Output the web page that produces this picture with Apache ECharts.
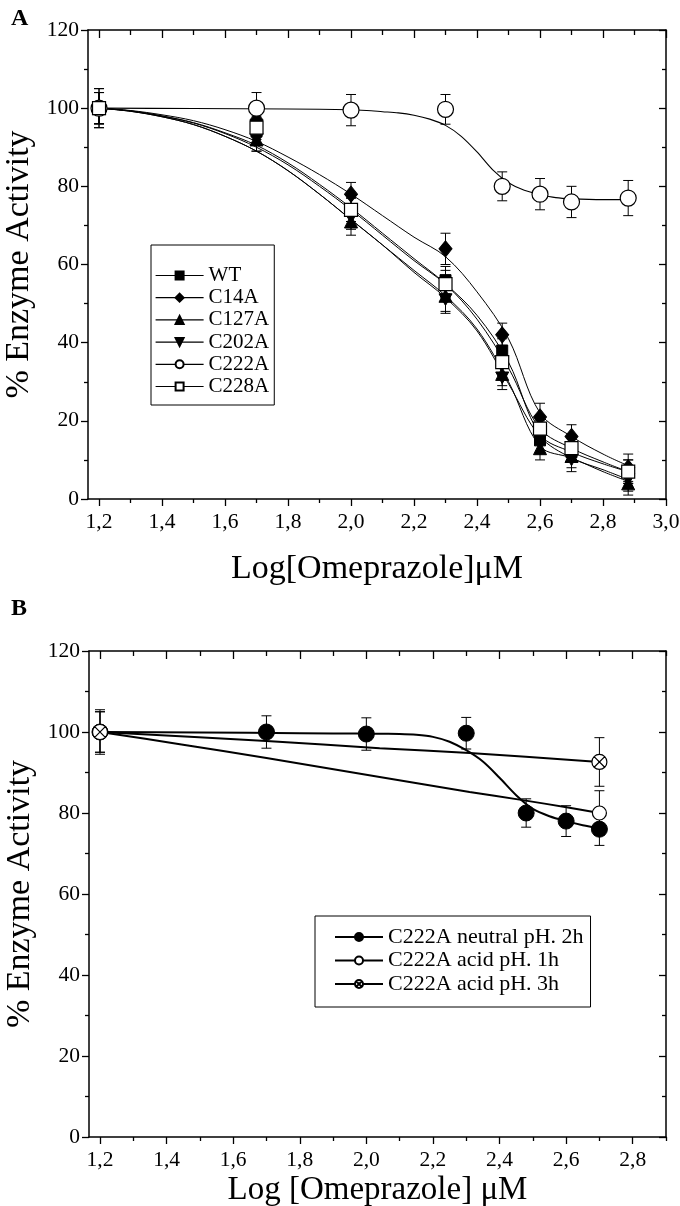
<!DOCTYPE html>
<html><head><meta charset="utf-8">
<script src="https://cdn.jsdelivr.net/npm/echarts@6/dist/echarts.min.js"></script>
<style>html,body{margin:0;padding:0;background:#fff}#c{width:680px;height:1206px}</style>
</head><body><div id="c"></div>
<script>
// ---------- Panel A data (measured points) ----------
const xA = [1.2, 1.7, 2.0, 2.3, 2.48, 2.6, 2.7, 2.88];
const wtA = [100, 94, 74, 56, 38, 15, 12, 7];
const wtErr = [5, 3, 3, 3.5, 3, 3, 2.5, 3];
const c14A = [100, 97, 78, 64, 42, 21, 16, 8];
const c14Err = [4, 3, 3, 4, 3, 3.5, 3, 3.5];
const c127A = [100, 92, 71, 52, 32, 13, 11, 4];
const c127Err = [4, 3, 3.5, 4, 3, 3, 3, 3];
const c202A = [100, 92, 72, 51, 31, 17, 10, 5];
const c202Err = [5, 3, 3, 3.5, 3, 3, 3, 3];
const c222A = [100, 100, 99.5, 99.7, 80, 78, 76, 77];
const c222Err = [4, 4, 4, 3.8, 3.7, 4, 4, 4.5];
const c228A = [100, 95, 74, 55, 35, 18, 13, 7];
const c228Err = [4, 3, 3, 3.5, 3, 3, 3, 3];

// ---------- Panel A fitted curves ----------
const fitXA = [1.2, 1.3, 1.4, 1.5, 1.6, 1.7, 1.8, 1.9, 2.0, 2.1, 2.2, 2.3, 2.4, 2.5, 2.6, 2.7, 2.8, 2.88];
const wtFit = [100, 99.3, 98, 96.2, 93.5, 90, 85.5, 80, 74, 67.5, 61, 55, 47, 35, 16.5, 12, 9, 7];
const c14Fit = [100, 99.4, 98.3, 96.8, 94.5, 91.5, 87.5, 83, 78, 72.5, 67, 62, 53, 41, 22, 16, 11.5, 8.5];
const c127Fit = [100, 99.2, 97.8, 95.8, 92.8, 89, 84, 78, 71.5, 65, 58.5, 52, 43.5, 30, 13.5, 10.5, 7, 4.5];
const c202Fit = [100, 99.2, 97.8, 95.8, 92.8, 89, 84, 78, 71.5, 65, 58, 51.5, 43, 29.5, 16, 10.5, 7.5, 5];
const c228Fit = [100, 99.3, 98, 96.3, 93.7, 90.5, 86, 80.5, 74.5, 68, 61.5, 55, 46, 33.5, 18, 13, 9.5, 7];
const c222FitX = [1.2, 1.5, 1.8, 2.0, 2.05, 2.1, 2.15, 2.2, 2.25, 2.3, 2.35, 2.4, 2.45, 2.5, 2.55, 2.6, 2.65, 2.7, 2.8, 2.88];
const c222FitY = [100, 99.9, 99.8, 99.6, 99.4, 99.1, 98.8, 98.2, 97.2, 95.6, 92.8, 88.8, 84.2, 80.9, 79.0, 77.9, 77.1, 76.8, 76.6, 76.6];

// ---------- Panel B data ----------
const xB = [1.2, 1.7, 2.0, 2.3, 2.48, 2.6, 2.7];
const neutral2h = [100, 100, 99.5, 99.7, 80, 78, 76];
const neutralErr = [5, 4, 4, 3.9, 3.5, 3.8, 4];
const neutralFitX = [1.2, 1.5, 1.8, 2.0, 2.05, 2.1, 2.15, 2.2, 2.25, 2.3, 2.35, 2.4, 2.45, 2.5, 2.55, 2.6, 2.65, 2.7];
const neutralFitY = [100, 99.9, 99.7, 99.6, 99.55, 99.5, 99.3, 98.8, 97.6, 95.5, 92.7, 88.7, 84.4, 81.0, 79.2, 78.0, 77.0, 76.2];
const xAcid = [1.2, 2.7];
const acid1h = [100, 80];
const acid1hErr = [5, 5.5];
const acid1hFitX = [1.2, 1.44, 1.7, 2.04, 2.31, 2.46, 2.61, 2.7];
const acid1hFitY = [100, 97.0, 93.6, 88.9, 85.2, 83.3, 81.3, 80];
const acid3h = [100, 92.6];
const acid3hErr = [5.5, 6];
const acid3hFitX = [1.2, 1.7, 2.04, 2.31, 2.7];
const acid3hFitY = [100, 97.8, 96.0, 94.8, 92.6];

// ---------- ticks ----------
const xMajorA = [1.2, 1.4, 1.6, 1.8, 2.0, 2.2, 2.4, 2.6, 2.8, 3.0];
const xMinorA = [1.3, 1.5, 1.7, 1.9, 2.1, 2.3, 2.5, 2.7, 2.9];
const xMajorB = [1.2, 1.4, 1.6, 1.8, 2.0, 2.2, 2.4, 2.6, 2.8];
const xMinorB = [1.3, 1.5, 1.7, 1.9, 2.1, 2.3, 2.5, 2.7, 2.9];
const yMajor = [0, 20, 40, 60, 80, 100, 120];
const yMinor = [10, 30, 50, 70, 90, 110];

const FONT = 'Liberation Serif';
const zip = (xs, ys) => xs.map((x, i) => [x, ys[i]]);
const fmtX = v => v.toFixed(1).replace('.', ',');

const grids = [
  { left: 88, top: 30, width: 578, height: 469, outerBoundsMode: 'none', containLabel: false },
  { left: 89, top: 651, width: 577, height: 486, outerBoundsMode: 'none', containLabel: false }
];
const ranges = [[1.165, 3.0], [1.167, 2.9]];

function xAx(g, pos, vals, len, inside, line, label, extra) {
  return Object.assign({
    type: 'value', gridIndex: g, position: pos, min: ranges[g][0], max: ranges[g][1],
    splitLine: { show: false },
    axisLine: { show: line, onZero: false, lineStyle: { color: '#000', width: 1.5 } },
    axisTick: { show: true, inside: inside, length: len, customValues: vals, lineStyle: { color: '#000', width: 1.3 } },
    axisLabel: label ? { show: true, customValues: vals, formatter: fmtX, fontFamily: FONT, fontSize: 21.5, color: '#000', margin: 12 } : { show: false }
  }, extra || {});
}
function yAx(g, pos, vals, len, inside, line, label, extra) {
  return Object.assign({
    type: 'value', gridIndex: g, position: pos, min: 0, max: 120,
    splitLine: { show: false },
    axisLine: { show: line, onZero: false, lineStyle: { color: '#000', width: 1.5 } },
    axisTick: { show: true, inside: inside, length: len, customValues: vals, lineStyle: { color: '#000', width: 1.3 } },
    axisLabel: label ? { show: true, customValues: vals, fontFamily: FONT, fontSize: 21.5, color: '#000', margin: 9 } : { show: false }
  }, extra || {});
}

const xNames = ['Log[Omeprazole]\u03bcM', 'Log [Omeprazole] \u03bcM'];
const xNameGap = [53, 37];
const xNameSize = [34, 33];
const xMaj = [xMajorA, xMajorB], xMin = [xMinorA, xMinorB];
const xAxes = [], yAxes = [];
[0, 1].forEach(g => {
  xAxes.push(xAx(g, 'bottom', xMaj[g], 7, false, true, true, {
    name: xNames[g], nameLocation: 'middle', nameGap: xNameGap[g],
    nameTextStyle: { fontFamily: FONT, fontSize: xNameSize[g], color: '#000' }
  }));
  yAxes.push(yAx(g, 'left', yMajor, 7, false, true, true, {
    name: '% Enzyme Activity', nameLocation: 'middle', nameGap: 47,
    nameTextStyle: { fontFamily: FONT, fontSize: 34, color: '#000' }
  }));
});
[0, 1].forEach(g => {
  xAxes.push(xAx(g, 'bottom', xMin[g], 4, false, false, false));
  xAxes.push(xAx(g, 'top', xMaj[g], 8, true, true, false));
  xAxes.push(xAx(g, 'top', xMin[g], 5, true, false, false));
  yAxes.push(yAx(g, 'left', yMinor, 4, false, false, false));
  yAxes.push(yAx(g, 'right', yMajor, 7, true, true, false));
  yAxes.push(yAx(g, 'right', yMinor, 4, true, false, false));
});

function errSeries(g, xs, ys, es, cap) {
  return {
    type: 'custom', xAxisIndex: g, yAxisIndex: g, silent: true, z: 2,
    data: xs.map((x, i) => [x, ys[i] - es[i], ys[i] + es[i]]),
    encode: { x: 0, y: [1, 2] },
    renderItem: (params, api) => {
      const lo = api.coord([api.value(0), api.value(1)]);
      const hi = api.coord([api.value(0), api.value(2)]);
      const w = cap / 2, st = { stroke: '#000', lineWidth: 1 };
      return { type: 'group', children: [
        { type: 'line', shape: { x1: lo[0], y1: lo[1], x2: hi[0], y2: hi[1] }, style: st },
        { type: 'line', shape: { x1: lo[0] - w, y1: lo[1], x2: lo[0] + w, y2: lo[1] }, style: st },
        { type: 'line', shape: { x1: hi[0] - w, y1: hi[1], x2: hi[0] + w, y2: hi[1] }, style: st }
      ] };
    }
  };
}

const DOWN_TRI = 'path://M0,0 L10,0 L5,9 Z';
const CROSS_CIRCLE = 'path://M0,10 A10,10 0 1,1 20,10 A10,10 0 1,1 0,10 Z M2.93,2.93 L17.07,17.07 M17.07,2.93 L2.93,17.07';
const filled = { color: '#000', borderColor: '#000', borderWidth: 1 };
const hollow = { color: '#fff', borderColor: '#000', borderWidth: 1.2 };

function ptSeries(g, name, xs, ys, symbol, size, style) {
  return {
    type: 'line', name: name, xAxisIndex: g, yAxisIndex: g, z: 4,
    data: zip(xs, ys), symbol: symbol, symbolSize: size, symbolKeepAspect: true,
    showAllSymbol: true, itemStyle: style,
    lineStyle: { color: '#000', width: 0 }, emphasis: { disabled: true }, animation: false
  };
}
function fitSeries(g, xs, ys, w, smooth) {
  return {
    type: 'line', xAxisIndex: g, yAxisIndex: g, z: 3, data: zip(xs, ys), symbol: 'none',
    smooth: smooth, lineStyle: { color: '#000', width: w }, animation: false, silent: true
  };
}

const series = [
  errSeries(0, xA, wtA, wtErr, 10),
  errSeries(0, xA, c14A, c14Err, 10),
  errSeries(0, xA, c127A, c127Err, 10),
  errSeries(0, xA, c202A, c202Err, 10),
  errSeries(0, xA, c222A, c222Err, 10),
  errSeries(0, xA, c228A, c228Err, 10),
  fitSeries(0, fitXA, wtFit, 1, 0.35),
  fitSeries(0, fitXA, c14Fit, 1, 0.35),
  fitSeries(0, fitXA, c127Fit, 1, 0.35),
  fitSeries(0, fitXA, c202Fit, 1, 0.35),
  fitSeries(0, fitXA, c228Fit, 1, 0.35),
  fitSeries(0, c222FitX, c222FitY, 1.1, 0.3),
  ptSeries(0, 'WT', xA, wtA, 'rect', 11, filled),
  ptSeries(0, 'C14A', xA, c14A, 'diamond', [13, 16], filled),
  ptSeries(0, 'C127A', xA, c127A, 'triangle', 13, filled),
  ptSeries(0, 'C202A', xA, c202A, DOWN_TRI, 13, filled),
  ptSeries(0, 'C222A', xA, c222A, 'circle', 16, hollow),
  ptSeries(0, 'C228A', xA, c228A, 'rect', 13, hollow),

  errSeries(1, xB, neutral2h, neutralErr, 10),
  errSeries(1, xAcid, acid1h, acid1hErr, 10),
  errSeries(1, xAcid, acid3h, acid3hErr, 10),
  fitSeries(1, neutralFitX, neutralFitY, 2, 0.3),
  fitSeries(1, acid1hFitX, acid1hFitY, 2, 0.3),
  fitSeries(1, acid3hFitX, acid3hFitY, 2, 0.3),
  ptSeries(1, 'C222A neutral pH. 2h', xB, neutral2h, 'circle', 16, filled),
  ptSeries(1, 'C222A acid pH. 1h', xAcid, acid1h, 'circle', 14, hollow),
  ptSeries(1, 'C222A acid pH. 3h', xAcid, acid3h, CROSS_CIRCLE, 15, hollow)
];

const option = {
  animation: false,
  backgroundColor: '#fff',
  title: [
    { text: 'A', left: 6, top: 2, textStyle: { fontFamily: FONT, fontSize: 24, fontWeight: 'bold', color: '#000' } },
    { text: 'B', left: 6, top: 592, textStyle: { fontFamily: FONT, fontSize: 24, fontWeight: 'bold', color: '#000' } }
  ],
  grid: grids,
  xAxis: xAxes,
  yAxis: yAxes,
  legend: [
    {
      orient: 'vertical', left: 151, top: 245, itemWidth: 48, itemHeight: 10, itemGap: 1.2,
      borderColor: '#000', borderWidth: 1, padding: [20, 5, 8, 4], selectedMode: false,
      textStyle: { fontFamily: FONT, fontSize: 21, lineHeight: 20, color: '#000' },
      lineStyle: { color: '#000', width: 1.2, type: 'solid', opacity: 1 },
      data: ['WT', 'C14A', 'C127A', 'C202A', 'C222A', 'C228A']
    },
    {
      orient: 'vertical', left: 315, top: 916, itemWidth: 48, itemHeight: 10, itemGap: 1.5,
      borderColor: '#000', borderWidth: 1, padding: [10, 7, 12, 19], selectedMode: false,
      textStyle: { fontFamily: FONT, fontSize: 22, lineHeight: 20, color: '#000' },
      lineStyle: { color: '#000', width: 2, type: 'solid', opacity: 1 },
      data: ['C222A neutral pH. 2h', 'C222A acid pH. 1h', 'C222A acid pH. 3h']
    }
  ],
  series: series
};
const chart = echarts.init(document.getElementById('c'), null, { renderer: 'canvas' });
chart.setOption(option);
</script></body></html>
